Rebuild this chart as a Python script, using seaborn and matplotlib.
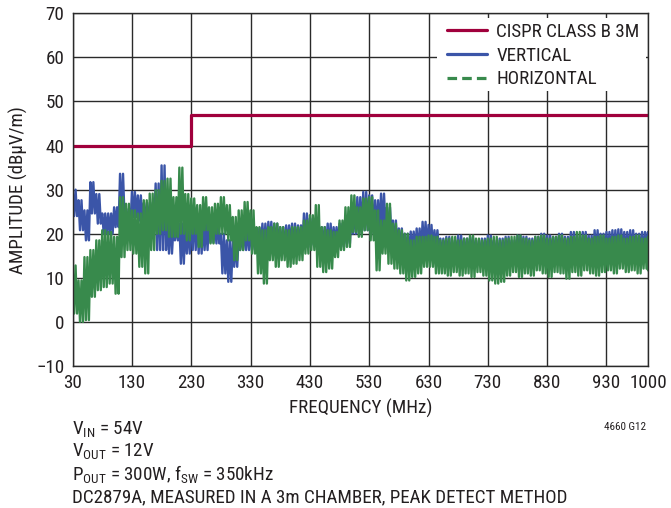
import matplotlib
matplotlib.use("Agg")
import matplotlib.pyplot as plt
from matplotlib.lines import Line2D
from matplotlib.patches import Rectangle
from matplotlib import font_manager as fm
import pandas as pd
import seaborn as sns

# ---------------- data ----------------
FREQ = list(range(30, 1001, 10))  # MHz, 98 bins

LIMIT_FREQ = [30, 230, 230, 1000]
LIMIT_VAL = [40, 40, 47, 47]

VERT_HI = [30, 27.6, 25.3, 31.7, 29, 24.6, 24.6, 26, 33.6, 25.7,
           29.5, 28.7, 27, 27, 31.4, 35.5, 24.6, 21.5, 22.3, 22.3,
           26, 23.8, 23, 24, 22.3, 20, 18.5, 18.5, 20, 21.5,
           21, 21.3, 22.3, 22.7, 22.3, 21.5, 21.9, 22.3, 21.9, 24.6,
           23.5, 22.3, 21.5, 22.3, 21.5, 22.3, 23, 26, 28.3, 29.5,
           28.7, 27.6, 29.1, 26, 23, 21.2, 20, 20.5, 21.2, 22.7,
           22, 20.8, 18.9, 19.3, 18.5, 19.6, 18.9, 19.3, 18.5, 18.9,
           19.6, 18.5, 18.9, 19.3, 18.5, 19.6, 19.3, 18.9, 19.3, 20,
           19.6, 19.3, 20, 19.3, 20.4, 19.6, 20.4, 19.6, 20.8, 20,
           20.4, 20.8, 21, 20.4, 20.8, 20, 20.4, 20.4]
VERT_LO = [24, 20.8, 18.5, 24.6, 22.3, 20, 20, 21.5, 23.8, 21.5,
           23.8, 23, 22, 21, 16.3, 16.3, 15.5, 18.5, 13.2, 15.5,
           16.3, 15.5, 16.3, 18, 17.8, 11, 9.1, 12.5, 16.3, 16.3,
           16.3, 17, 16.3, 17, 17, 15.5, 17, 16.3, 17, 17,
           17.5, 16.3, 17, 16.3, 17.8, 17, 17.8, 20, 20, 20.8,
           20, 20.8, 20.8, 19.3, 16.3, 16.3, 15.5, 15.5, 15.5, 16.3,
           16.3, 16.3, 14.5, 14, 14.5, 13.8, 14.2, 14.5, 14, 14.2,
           14.5, 14, 14.2, 14.5, 14, 14.5, 14.2, 14.5, 14.8, 14.5,
           14.2, 14.8, 14.5, 15, 14.5, 14.8, 15, 14.5, 15, 15.2,
           14.8, 15, 15.2, 15, 15.5, 15, 15.2, 15.5]

HORZ_HI = [12.8, 9.4, 14.7, 16.3, 18.5, 20.8, 20.4, 19.3, 28.3, 26.8,
           25.3, 24.6, 27.6, 29.1, 29.9, 32, 32.5, 28.3, 35, 29,
           28, 26.5, 28.3, 26, 26.8, 28.3, 26.5, 23.8, 25.3, 27.2,
           25.3, 21.5, 20.8, 21.5, 22.3, 21.5, 20.8, 21.5, 21.5, 23,
           24.2, 26.5, 21.5, 20.8, 20.4, 23, 26, 28.7, 26, 28,
           28.3, 25.3, 23, 26.8, 22.3, 20.8, 20, 18.5, 19.3, 19.3,
           19.6, 19.3, 18.5, 18.9, 19.3, 18.5, 18.9, 19.6, 18.9, 18.5,
           18.9, 19.3, 18.5, 18.9, 19.3, 19.6, 18.9, 18.5, 19.3, 19.6,
           18.9, 19.3, 19.6, 18.9, 19.3, 20.4, 19.6, 18.9, 19.3, 19.6,
           18.9, 19.3, 19.6, 18.9, 19.3, 19.6, 18.9, 19.3]
HORZ_LO = [1.9, 0, 0.4, 5.7, 7.2, 7.9, 8.7, 6.4, 14.7, 16.3,
           15.5, 12.5, 11, 16.3, 20, 20.8, 19.3, 19.3, 20, 18.5,
           20, 17, 20.8, 17.8, 20, 20, 18.5, 14, 16.3, 18.5,
           15.5, 11, 8.7, 14, 12.5, 14, 12.5, 13.2, 14, 15.5,
           16.3, 12.5, 11.3, 12.1, 14.7, 16.3, 17, 20.4, 19.3, 20.8,
           18.5, 11.7, 15.5, 13.2, 12.1, 11, 9.4, 10.2, 11, 12.5,
           12.5, 11, 11, 10.5, 11.3, 10.5, 11, 10.2, 11.3, 10.5,
           9.4, 8.7, 9.1, 10.5, 11.3, 10.2, 11, 10.5, 11.7, 11,
           10.2, 11.3, 11, 9.8, 11.3, 10.5, 11.7, 11, 10.5, 11.3,
           11.7, 11, 12.1, 11.3, 11.7, 11, 12.1, 11.7]

X_TICKS = [30, 130, 230, 330, 430, 530, 630, 730, 830, 930, 1000]
Y_TICKS = list(range(-10, 71, 10))

SERIES = ["CISPR CLASS B 3M", "VERTICAL", "HORIZONTAL"]
NOTES = [r"V$_\mathregular{IN}$ = 54V",
         r"V$_\mathregular{OUT}$ = 12V",
         r"P$_\mathregular{OUT}$ = 300W, f$_\mathregular{SW}$ = 350kHz",
         "DC2879A, MEASURED IN A 3m CHAMBER, PEAK DETECT METHOD"]

# ---------------- font choice: a condensed sans if one is installed ----------------
sns.set_theme(style="white")
entries = fm.fontManager.ttflist
names = {e.name for e in entries}
family, stretch = "DejaVu Sans", "normal"
for cand in ["Liberation Sans Narrow", "Arial Narrow", "Roboto Condensed",
             "DejaVu Sans Condensed", "Open Sans Condensed", "Noto Sans Condensed"]:
    if cand in names:
        family = cand
        break
else:
    for pref in ["DejaVu Sans", "Roboto", "Open Sans", "Noto Sans", "Liberation Sans"]:
        hits = [e for e in entries if e.name == pref and "condensed" in str(e.stretch)]
        if hits:
            family, stretch = pref, "condensed"
            break
plt.rcParams["font.family"] = [family, "DejaVu Sans"]
plt.rcParams["font.stretch"] = stretch
plt.rcParams["mathtext.fontset"] = "custom"
plt.rcParams["mathtext.rm"] = family

TXT = "#231f20"
RED = "#a0003c"
BLUE = "#3b55a8"
GREEN = "#388a4c"
GRID = "#2a2a2a"
FS = 13.7

def trace(hi, lo):
    xs, ys = [], []
    for f, h, l in zip(FREQ, hi, lo):
        for k, v in enumerate([h, l, h, l]):
            xs.append(min(f + 2.5 * k, 1000))
            ys.append(v)
    return pd.DataFrame({"f": xs, "v": ys})

W, H = 671, 508
fig = plt.figure(figsize=(W / 100, H / 100), dpi=100)
L, R, T, B = 72.6, 648, 13.3, 366
ax = fig.add_axes([L / W, 1 - B / H, (R - L) / W, (B - T) / H])

vert = trace(VERT_HI, VERT_LO)
horz = trace(HORZ_HI, HORZ_LO)
lim = pd.DataFrame({"f": LIMIT_FREQ, "v": LIMIT_VAL})

sns.lineplot(data=vert, x="f", y="v", ax=ax, color=BLUE, lw=1.7,
             estimator=None, sort=False, legend=False)
sns.lineplot(data=horz, x="f", y="v", ax=ax, color=GREEN, lw=1.7,
             estimator=None, sort=False, legend=False)
sns.lineplot(data=lim, x="f", y="v", ax=ax, color=RED, lw=2.3,
             estimator=None, sort=False, legend=False)

ax.set_xlim(30, 1000)
ax.set_ylim(-10, 70)
ax.set_xticks(X_TICKS)
ax.set_yticks(Y_TICKS)
ax.tick_params(axis="both", length=0, labelsize=FS, colors=TXT)
ax.tick_params(axis="x", pad=6)
ax.tick_params(axis="y", pad=6)
ax.grid(True, color=GRID, lw=1.0)
ax.set_axisbelow(True)
for s in ax.spines.values():
    s.set_color(GRID)
    s.set_linewidth(1.0)

ax.set_xlabel("FREQUENCY (MHz)", fontsize=FS, color=TXT, labelpad=5)
ax.set_ylabel("AMPLITUDE (dBµV/m)", fontsize=FS, color=TXT, labelpad=6)

# white panel behind the legend (covers grid lines like the reference)
def ax_frac(px, py):
    return ((px - L) / (R - L), (B - py) / (B - T))
x0, y0 = ax_frac(437, 91)
x1, y1 = ax_frac(646, 18)
ax.add_patch(Rectangle((x0, y0), x1 - x0, y1 - y0, transform=ax.transAxes,
                       facecolor="white", edgecolor="none", zorder=2.5))

handles = [Line2D([], [], color=RED, lw=2.3),
           Line2D([], [], color=BLUE, lw=2.3),
           Line2D([], [], color=GREEN, lw=2.3, ls=(0, (3, 1.6)))]
lx, ly = ax_frac(447, 23)
leg = ax.legend(handles, SERIES, loc="upper left", bbox_to_anchor=(lx, ly),
                fontsize=FS, frameon=False, handlelength=2.1, handletextpad=0.5,
                labelspacing=0.3, borderpad=0, borderaxespad=0)
leg.set_zorder(3)
for t in leg.get_texts():
    t.set_color(TXT)

ys = [430, 452, 475, 497]
for y, s in zip(ys, NOTES):
    fig.text(72 / W, 1 - y / H, s, fontsize=FS, color=TXT, va="center", ha="left")
fig.text(646 / W, 1 - 427 / H, "4660 G12", fontsize=8, color=TXT, va="center", ha="right")

fig.savefig("out.png", dpi=100)
